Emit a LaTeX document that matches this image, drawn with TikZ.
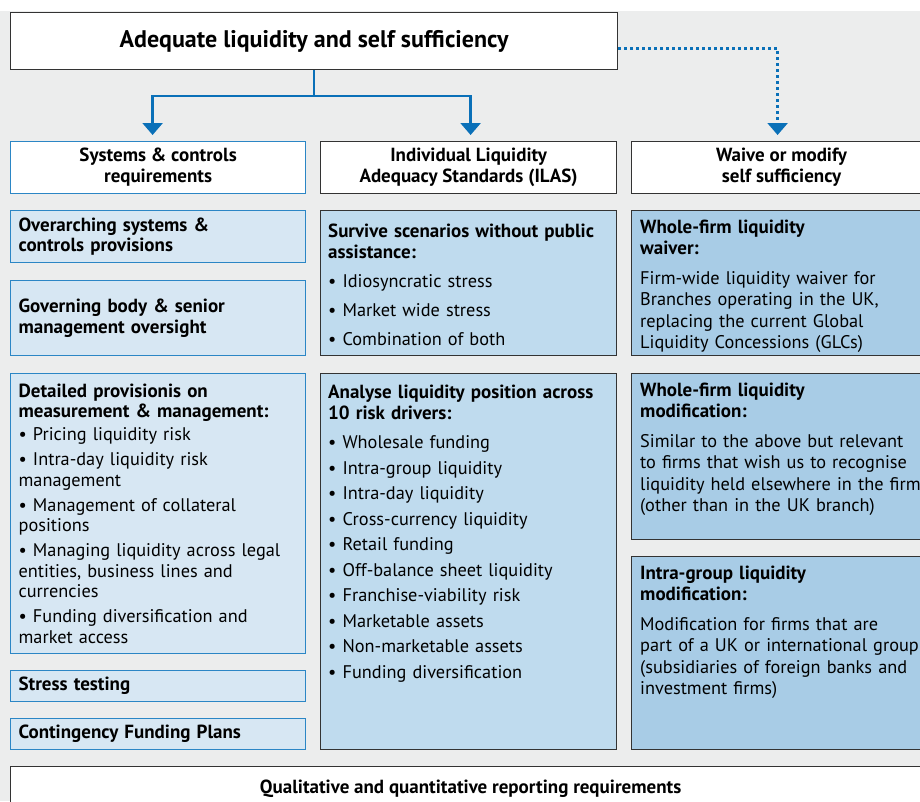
\documentclass[tikz,border=0pt]{standalone}
\usepackage{fontspec}
\setmainfont{PT Sans}
\usepackage{xcolor}
\usepackage{tikz}
\usetikzlibrary{positioning}
\usetikzlibrary{arrows.meta}
\definecolor{bggrey}{HTML}{ECEDED}
\definecolor{sysblue}{HTML}{2B86C5}
\definecolor{flowblue}{HTML}{0A70B8}
\definecolor{darkline}{HTML}{333333}
\definecolor{sysfill}{HTML}{D7E7F3}
\definecolor{ilasfill}{HTML}{BFDBEE}
\definecolor{waivefill}{HTML}{A8CCE6}
\newcommand{\titlefont}{\fontsize{24}{28}\selectfont\bfseries}
\newcommand{\headfont}{\fontsize{19}{21}\selectfont\bfseries}
\newcommand{\bodyfont}{\fontsize{18.3}{21.5}\selectfont}
\newcommand{\sysfont}{\fontsize{18.3}{20.5}\selectfont}
\newcommand{\bhead}{\fontsize{19}{20.5}\selectfont\bfseries}
\tikzstyle{panel}=[anchor=north west,inner sep=0pt,line width=1.2pt]
\tikzstyle{topbox}=[panel,draw=darkline,fill=white,font=\titlefont]
\tikzstyle{headbox}=[panel,draw=darkline,fill=white,minimum height=52,align=center,font=\headfont]
\tikzstyle{syshead}=[headbox,draw=sysblue]
\tikzstyle{sysbox}=[panel,draw=sysblue,fill=sysfill,inner xsep=8pt,text width=279,align=left,font=\sysfont]
\tikzstyle{ilasbox}=[panel,draw=darkline,fill=ilasfill,minimum width=296]
\tikzstyle{waivebox}=[panel,draw=darkline,fill=waivefill,minimum width=300]
\tikzstyle{boxtext}=[anchor=north west,inner sep=0pt,text width=300,align=left,font=\bodyfont]
\tikzstyle{flow}=[draw=flowblue,line width=2.5pt,-{Triangle[width=20pt,length=12pt]},shorten >=6pt]
\tikzstyle{waiveflow}=[flow,dash pattern=on 2.5pt off 3.5pt]

\begin{document}
\begin{tikzpicture}[x=1pt,y=-1pt]
	\useasboundingbox (0,0) rectangle (920,801);
	\clip (0,0) rectangle (920,801);
	\fill[bggrey] (0,11) rectangle (920,801);
	% top and column heads
	\node[topbox,minimum width=607,minimum height=57] (adeq) at (10,12) {Adequate liquidity and self sufficiency};
	\node[syshead,minimum width=295] (syshd) at (10,141) {Systems \& controls\\requirements};
	\node[headbox,minimum width=296] (ilashd) at (320,141) {Individual Liquidity\\Adequacy Standards (ILAS)};
	\node[headbox,minimum width=300] (waivehd) at (631,141) {Waive or modify\\self sufficiency};
	\path[flow] (adeq.south) -- ++(0,26) -| ([xshift=-5.5pt]syshd.north);
	\path[flow] (adeq.south) -- ++(0,26) -| ([xshift=2pt]ilashd.north);
	\path[waiveflow] ([yshift=-7.5pt]adeq.east) -| ([xshift=-4pt]waivehd.north);
	% systems & controls
	\node[sysbox,minimum height=52] (sysa) at (10,210) {\bhead Overarching systems \&\\controls provisions};
	\node[sysbox,minimum height=75] (sysb) at (10,280) {\bhead Governing body \& senior\\management oversight};
	\node[sysbox,minimum height=280] (sysc) at (10,373) {{\bhead Detailed provisionis on\\measurement \& management:}\\[2.5pt]
		• Pricing liquidity risk\\[4.5pt]
		• Intra-day liquidity risk\\management\\[4.5pt]
		• Management of collateral\\positions\\[4.5pt]
		• Managing liquidity across legal\\entities, business lines and\\currencies\\[4.5pt]
		• Funding diversification and\\market access};
	\node[sysbox,minimum height=31] (sysd) at (10,670) {\bhead Stress testing};
	\node[sysbox,minimum height=31] (syse) at (10,718) {\bhead Contingency Funding Plans};
	% ILAS
	\node[ilasbox,minimum height=145] (ilasa) at (320,210) {};
	\node[boxtext,below right=13.5pt and 8pt of ilasa.north west] (ilasat) {{\bhead Survive scenarios without public\\assistance:}\\[7.5pt]
		• Idiosyncratic stress\\[7.5pt]
		• Market wide stress\\[7.5pt]
		• Combination of both};
	\node[ilasbox,minimum height=376] (ilasb) at (320,373) {};
	\node[boxtext,below right=11.5pt and 8pt of ilasb.north west] (ilasbt) {{\bhead Analyse liquidity position across\\10 risk drivers:}\\[7.5pt]
		• Wholesale funding\\[4pt]
		• Intra-group liquidity\\[4pt]
		• Intra-day liquidity\\[4pt]
		• Cross-currency liquidity\\[4pt]
		• Retail funding\\[4pt]
		• Off-balance sheet liquidity\\[4pt]
		• Franchise-viability risk\\[4pt]
		• Marketable assets\\[4pt]
		• Non-marketable assets\\[4pt]
		• Funding diversification};
	% waive or modify
	\node[waivebox,minimum height=145] (waivea) at (631,210) {};
	\node[boxtext,below right=9.5pt and 9pt of waivea.north west] (waiveat) {{\bhead Whole-firm liquidity\\waiver:}\\[8pt]
		Firm-wide liquidity waiver for\\Branches operating in the UK,\\replacing the current Global\\Liquidity Concessions (GLCs)};
	\node[waivebox,minimum height=166] (waiveb) at (631,373) {};
	\node[boxtext,below right=9.5pt and 9pt of waiveb.north west] (waivebt) {{\bhead Whole-firm liquidity\\modification:}\\[8pt]
		Similar to the above but relevant\\to firms that wish us to recognise\\liquidity held elsewhere in the firm\\(other than in the UK branch)};
	\node[waivebox,minimum height=193] (waivec) at (631,556) {};
	\node[boxtext,below right=9.5pt and 9pt of waivec.north west] (waivect) {{\bhead Intra-group liquidity\\modification:}\\[8pt]
		Modification for firms that are\\part of a UK or international group\\(subsidiaries of foreign banks and\\investment firms)};
	% reporting
	\node[headbox,minimum width=920,minimum height=44] (report) at (10,766) {Qualitative and quantitative reporting requirements};
\end{tikzpicture}
\end{document}
